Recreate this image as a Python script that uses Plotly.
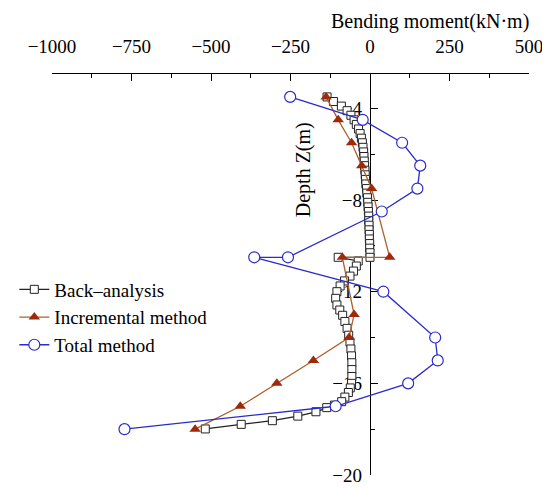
import plotly.graph_objects as go

# ---- data ----
back_depth = [3.5, 3.7, 3.9, 4.1, 4.3, 4.5, 4.7, 4.9, 5.1, 5.3, 5.5, 5.7, 5.9, 6.1, 6.3, 6.5,
              6.7, 6.9, 7.1, 7.3, 7.5, 7.7, 7.9, 8.1, 8.3, 8.5, 8.7, 8.9, 9.1, 9.3, 9.5, 9.7,
              9.9, 10.1, 10.3, 10.5, 10.5, 10.66, 10.88, 11.1, 11.32, 11.53, 11.75, 12.0,
              12.29, 12.58, 12.8, 13.03, 13.3, 13.6, 13.9, 14.2, 14.5, 14.8, 15.1, 15.4,
              15.7, 16.0, 16.2, 16.4, 16.6, 16.8, 16.95, 17.06, 17.24, 17.43, 17.63, 17.79, 17.99]
back_moment = [-135, -115, -90, -72, -60, -50, -43, -36, -31, -27, -24, -22, -20, -19, -18, -17,
               -16, -15, -14, -13, -11, -10, -8, -7, -6, -5, -4, -4, -3, -3, -2, -2,
               -1, -1, 0, 0, -100, -37, -43, -52, -63, -80, -94, -104,
               -108, -104, -95, -86, -79, -72, -67, -63, -60, -58, -57, -57,
               -57, -58, -62, -68, -79, -89, -112, -136, -170, -227, -307, -405, -518]

inc_depth = [3.5, 4.5, 5.5, 6.5, 7.5, 10.5, 10.5, 13, 14, 15, 16, 17, 18]
inc_moment = [-138, -100, -58, -26, 5, 62, -87, -50, -66, -178, -293, -408, -550]

tot_depth = [3.5, 4.5, 5.5, 6.5, 7.5, 8.5, 10.5, 10.5, 12, 14, 15, 16, 17, 18]
tot_moment = [-251, -23, 101, 158, 149, 37, -258, -364, 42, 205, 213, 120, -108, -772]

x_ticks = [-1000, -750, -500, -250, 0, 250, 500]
y_ticks = [-4, -8, -12, -16, -20]

FONT = "Liberation Serif, Times New Roman, serif"

fig = go.Figure()
fig.add_trace(go.Scatter(
    x=back_moment, y=[-d for d in back_depth], mode="lines+markers",
    name="Back\u2013analysis",
    line=dict(color="#222222", width=1.3),
    marker=dict(symbol="square", size=8, color="white", line=dict(color="#222222", width=1))))
fig.add_trace(go.Scatter(
    x=inc_moment, y=[-d for d in inc_depth], mode="lines+markers",
    name="Incremental method",
    line=dict(color="#B0602A", width=1.3),
    marker=dict(symbol="triangle-up", size=10, color="#9E2A0B", line=dict(width=0))))
fig.add_trace(go.Scatter(
    x=tot_moment, y=[-d for d in tot_depth], mode="lines+markers",
    name="Total method",
    line=dict(color="#2B2BCC", width=1.3),
    marker=dict(symbol="circle", size=11, color="white", line=dict(color="#2B2BCC", width=1.2))))

# page body has an 8px default margin, so the figure is sized/offset to compensate
fig.update_layout(
    width=542, height=482,
    margin=dict(l=44, r=21, t=66, b=15, autoexpand=False),
    plot_bgcolor="white", paper_bgcolor="white",
    font=dict(family=FONT, size=19, color="black"),
    showlegend=True,
    legend=dict(x=-0.079, y=0.51, xanchor="left", yanchor="top",
                bgcolor="rgba(0,0,0,0)", font=dict(size=19, family=FONT),
                tracegroupgap=0, itemwidth=30),
    xaxis=dict(range=[-1000, 500], side="top", showgrid=False, zeroline=False,
               showline=True, linecolor="black", linewidth=1.3,
               tickvals=x_ticks, ticks="inside", ticklen=7, tickwidth=1.3, tickcolor="black",
               minor=dict(dtick=125, ticks="inside", ticklen=4, tickcolor="black", tickwidth=1.2),
               ticklabelstandoff=12, ticklabeloverflow="allow",
               tickfont=dict(size=19, family=FONT)),
    yaxis=dict(range=[-20, -2.5], anchor="free", position=2/3, showgrid=False, zeroline=False,
               showline=True, linecolor="black", linewidth=1.3, layer="below traces",
               tickvals=y_ticks, ticks="inside", ticklen=7, tickwidth=1.3, tickcolor="black",
               minor=dict(tickvals=[-6, -10, -14, -18], ticks="inside", ticklen=4,
                          tickcolor="black", tickwidth=1.2),
               ticklabelstandoff=4, ticklabeloverflow="allow",
               tickfont=dict(size=19, family=FONT)),
)

fig.add_annotation(text="Bending moment(kN\u00b7m)", xref="x", yref="paper",
                   x=188, y=1.132, showarrow=False, xanchor="center", yanchor="middle",
                   font=dict(size=20, family=FONT))
fig.add_annotation(text="Depth Z(m)", xref="x", yref="y", x=-210, y=-6.69,
                   textangle=-90, showarrow=False, xanchor="center", yanchor="middle",
                   font=dict(size=20, family=FONT))

fig.write_html("out.html")
